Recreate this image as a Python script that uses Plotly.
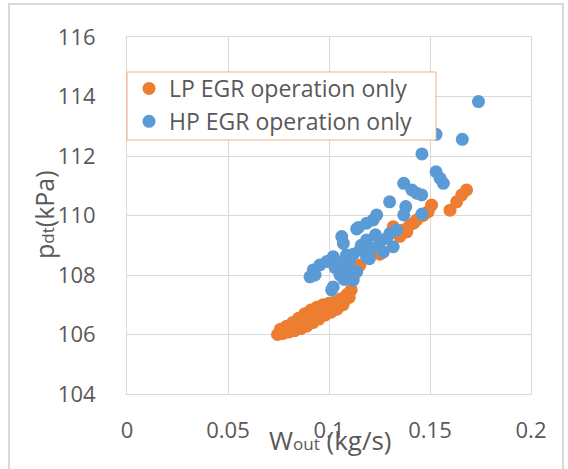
import plotly.graph_objects as go

# LP EGR operation only (orange)
lp_x = [0.0745, 0.077, 0.080, 0.083, 0.086, 0.089, 0.092, 0.095, 0.098, 0.101, 0.104, 0.107, 0.110,
        0.076, 0.079, 0.082, 0.085, 0.088, 0.091, 0.094, 0.097, 0.100, 0.103, 0.106, 0.109, 0.111,
        0.078, 0.081, 0.084, 0.087, 0.090, 0.093, 0.096, 0.099, 0.102, 0.105, 0.108,
        0.1681, 0.1657, 0.1632, 0.1599, 0.1508, 0.1491, 0.1467, 0.1434, 0.1401, 0.1368, 0.1351,
        0.1318, 0.1252, 0.1262, 0.1153, 0.1146, 0.1420, 0.1385]
lp_y = [106.00, 106.03, 106.08, 106.13, 106.20, 106.28, 106.40, 106.52, 106.65, 106.75, 106.85, 107.00, 107.25,
        106.18, 106.28, 106.40, 106.55, 106.70, 106.82, 106.92, 107.00, 107.05, 107.10, 107.20, 107.35, 107.50,
        106.10, 106.20, 106.30, 106.45, 106.55, 106.65, 106.78, 106.88, 106.95, 107.05, 107.18,
        110.86, 110.69, 110.46, 110.18, 110.35, 110.13, 110.00, 109.85, 109.68, 109.51, 109.30,
        109.62, 108.70, 108.75, 108.34, 108.28, 109.75, 109.45]

# HP EGR operation only (blue)
hp_x = [0.174, 0.153, 0.166, 0.146, 0.153, 0.155, 0.1566, 0.137, 0.141, 0.1434, 0.1459,
        0.130, 0.138, 0.146, 0.137, 0.1236, 0.1219, 0.1186, 0.1146, 0.1137, 0.1335, 0.1302,
        0.1285, 0.1063, 0.1071, 0.1186, 0.1252, 0.1318, 0.1211, 0.1153, 0.1269, 0.1087,
        0.1021, 0.1186, 0.0989, 0.0955, 0.0922, 0.1087, 0.1137, 0.1054, 0.112, 0.1021,
        0.0906, 0.1013, 0.0931, 0.1112, 0.104, 0.1103, 0.1120, 0.1030, 0.1075, 0.1160,
        0.1230, 0.1200]
hp_y = [113.83, 112.73, 112.56, 112.07, 111.47, 111.25, 111.08, 111.08, 110.86, 110.75, 110.69,
        110.46, 110.30, 110.05, 110.02, 110.02, 109.85, 109.74, 109.60, 109.55, 109.51, 109.40,
        109.23, 109.29, 109.06, 109.18, 109.12, 108.95, 108.90, 108.84, 108.78, 108.67,
        108.61, 108.61, 108.45, 108.34, 108.17, 108.28, 108.11, 108.00, 107.83, 107.60,
        107.94, 107.50, 108.00, 108.00, 108.45, 108.50, 108.70, 108.25, 107.85, 109.00,
        109.35, 108.55]

x_ticks = [0, 0.05, 0.1, 0.15, 0.2]
x_labels = ["0", "0.05", "0.1", "0.15", "0.2"]
y_ticks = [104, 106, 108, 110, 112, 114, 116]

FONT = "Open Sans"
TXT = "#595959"
GRID = "#D9D9D9"

fig = go.Figure()
fig.add_trace(go.Scatter(x=lp_x, y=lp_y, mode="markers", name="LP EGR operation only",
                         legendgroup="lp",
                         marker=dict(color="#ED7D31", size=13)))
fig.add_trace(go.Scatter(x=hp_x, y=hp_y, mode="markers", name="HP EGR operation only",
                         legendgroup="hp",
                         marker=dict(color="#5B9BD5", size=13)))

W, H = 568, 469
L, R, T, B = 127, 37, 37, 75
pw, ph = W - L - R, H - T - B

def px(xp):
    return (xp - L) / pw

def py(yp):
    return (H - B - yp) / ph

fig.update_layout(
    width=W, height=H,
    margin=dict(l=L, r=R, t=T, b=B),
    paper_bgcolor="white", plot_bgcolor="white",
    font=dict(family=FONT, size=22, color=TXT),
    showlegend=True,
    legend=dict(x=px(129), y=py(67), xanchor="left", yanchor="top",
                bgcolor="rgba(0,0,0,0)", borderwidth=0,
                font=dict(family=FONT, size=23, color=TXT),
                tracegroupgap=0, itemwidth=30),
    xaxis=dict(range=[0, 0.2], tickvals=x_ticks, ticktext=x_labels,
               showgrid=True, gridcolor=GRID, gridwidth=1, zeroline=False,
               showline=True, linecolor=GRID, linewidth=1, mirror=True,
               ticks="", ticklabelstandoff=17,
               tickfont=dict(family=FONT, size=22, color=TXT)),
    yaxis=dict(range=[104, 116], tickvals=y_ticks,
               showgrid=True, gridcolor=GRID, gridwidth=1, zeroline=False,
               showline=True, linecolor=GRID, linewidth=1, mirror=True,
               ticks="", ticklabelstandoff=26,
               tickfont=dict(family=FONT, size=22, color=TXT)),
    shapes=[
        dict(type="rect", xref="paper", yref="paper",
             x0=px(9), x1=px(563), y0=py(480), y1=py(4),
             line=dict(color="#D9D9D9", width=2), layer="below"),
        dict(type="rect", xref="paper", yref="paper",
             x0=px(127), x1=px(436), y0=py(140), y1=py(72),
             fillcolor="white",
             line=dict(color="#F4B183", width=1), layer="above"),
    ],
    annotations=[
        dict(text="W<span style='font-size:17px'>out</span> (kg/s)", xref="paper", yref="paper",
             x=px(330), y=py(440), xanchor="center", yanchor="middle", showarrow=False,
             font=dict(family=FONT, size=26, color=TXT)),
        dict(text="p<span style='font-size:17px'>dt</span>(kPa)", xref="paper", yref="paper",
             x=px(44), y=py(215), xanchor="center", yanchor="middle", showarrow=False,
             textangle=-90, font=dict(family=FONT, size=25, color=TXT)),
    ],
)

fig.write_html("out.html")
